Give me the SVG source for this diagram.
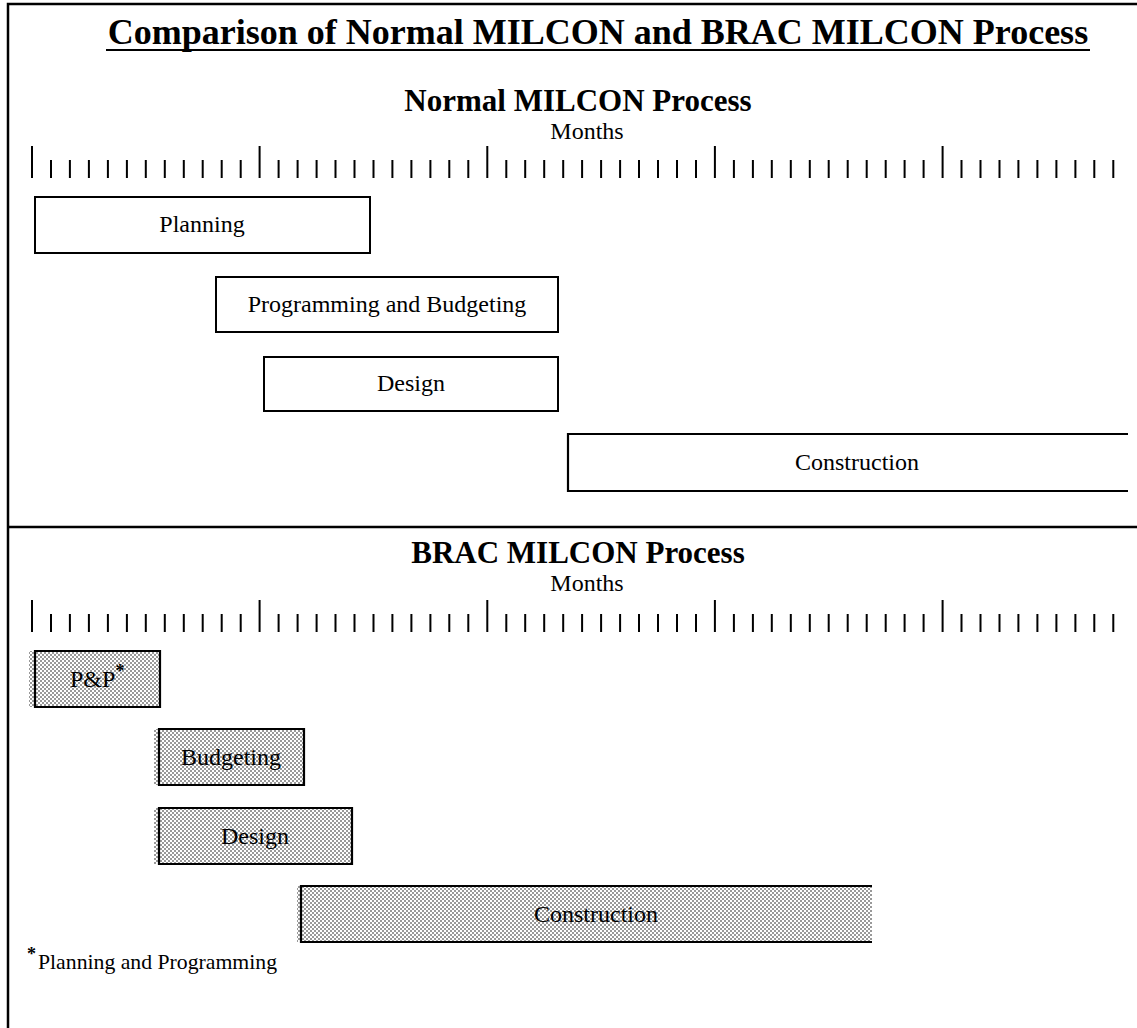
<svg xmlns="http://www.w3.org/2000/svg" xmlns:xlink="http://www.w3.org/1999/xlink" width="1137" height="1028" viewBox="0 0 1137 1028">
<style>
  .frame { fill: none; stroke: #000; stroke-width: 2.5; }
  .tick { fill: none; stroke: #000; stroke-width: 2; }
  .box { fill: #fff; stroke: #000; stroke-width: 2; }
  .shade { fill: url(#dots); }
  .edge { fill: none; stroke: #000; stroke-width: 2.2; }
  .title { font-family: "Liberation Serif", "Times New Roman", serif; font-weight: bold; font-size: 36px; text-anchor: middle; fill: #000; }
  .head { font-family: "Liberation Serif", "Times New Roman", serif; font-weight: bold; font-size: 31px; text-anchor: middle; fill: #000; }
  .months { font-family: "Liberation Serif", "Times New Roman", serif; font-size: 24px; text-anchor: middle; fill: #000; }
  .lbl { font-family: "Liberation Serif", "Times New Roman", serif; font-size: 24px; text-anchor: middle; fill: #000; }
  .note { font-family: "Liberation Serif", "Times New Roman", serif; font-size: 21.5px; fill: #000; }
</style>
<defs>
  <pattern id="dots" width="4" height="4" patternUnits="userSpaceOnUse">
    <rect width="4" height="4" fill="#fff"/>
    <rect width="2" height="2" fill="#999"/>
    <rect x="2" y="2" width="2" height="2" fill="#999"/>
  </pattern>
  <g id="ticks">
    <path class="tick" d="M32 146V178 M259.6 146V178 M487.3 146V178 M714.9 146V178 M942.6 146V178"/>
    <path class="tick" d="M51 160V178 M69.9 160V178 M88.9 160V178 M107.9 160V178 M126.9 160V178 M145.8 160V178 M164.8 160V178 M183.8 160V178 M202.7 160V178 M221.7 160V178 M240.7 160V178
      M278.6 160V178 M297.6 160V178 M316.6 160V178 M335.5 160V178 M354.5 160V178 M373.5 160V178 M392.4 160V178 M411.4 160V178 M430.4 160V178 M449.3 160V178 M468.3 160V178
      M506.3 160V178 M525.2 160V178 M544.2 160V178 M563.2 160V178 M582.1 160V178 M601.1 160V178 M620.1 160V178 M639 160V178 M658 160V178 M677 160V178 M696 160V178
      M733.9 160V178 M752.9 160V178 M771.8 160V178 M790.8 160V178 M809.8 160V178 M828.7 160V178 M847.7 160V178 M866.7 160V178 M885.7 160V178 M904.6 160V178 M923.6 160V178
      M961.5 160V178 M980.5 160V178 M999.5 160V178 M1018.4 160V178 M1037.4 160V178 M1056.4 160V178 M1075.4 160V178 M1094.3 160V178 M1113.3 160V178"/>
  </g>
</defs>

<rect width="1137" height="1028" fill="#fff"/>

<g id="frame">
  <path class="frame" d="M8 1028V4H1137"/>
  <line class="frame" x1="8" y1="527" x2="1137" y2="527"/>
</g>

<g id="title">
  <text class="title" x="598" y="44">Comparison of Normal MILCON and BRAC MILCON Process</text>
  <line x1="106" y1="50" x2="1090" y2="50" stroke="#000" stroke-width="2.2"/>
</g>

<g id="normal-header">
  <text class="head" x="578" y="111">Normal MILCON Process</text>
  <text class="months" x="587" y="139">Months</text>
  <use xlink:href="#ticks" href="#ticks"/>
</g>

<g id="n-planning">
  <rect class="box" x="35" y="197" width="335" height="56"/>
  <text class="lbl" x="202" y="232">Planning</text>
</g>
<g id="n-programming">
  <rect class="box" x="216" y="277" width="342" height="55"/>
  <text class="lbl" x="387" y="312">Programming and Budgeting</text>
</g>
<g id="n-design">
  <rect class="box" x="264" y="357" width="294" height="54"/>
  <text class="lbl" x="411" y="391">Design</text>
</g>
<g id="n-construction">
  <rect x="568" y="434" width="560" height="57" fill="#fff"/>
  <path class="edge" d="M1128 434H568V491H1128"/>
  <text class="lbl" x="857" y="470">Construction</text>
</g>

<g id="brac-header">
  <text class="head" x="578" y="563">BRAC MILCON Process</text>
  <text class="months" x="587" y="591">Months</text>
  <use xlink:href="#ticks" href="#ticks" transform="translate(0,454)"/>
</g>

<g id="b-pp">
  <rect class="shade" x="29" y="651" width="131" height="56"/>
  <path class="edge" d="M35 651H160V707H35Z"/>
  <text class="lbl" x="70" y="687" style="text-anchor:start">P&amp;P<tspan dy="-10" font-size="18" font-weight="bold">*</tspan></text>
</g>
<g id="b-budgeting">
  <rect class="shade" x="154" y="729" width="150" height="56"/>
  <path class="edge" d="M159 729H304V785H159Z"/>
  <text class="lbl" x="231" y="765">Budgeting</text>
</g>
<g id="b-design">
  <rect class="shade" x="154" y="808" width="198" height="56"/>
  <path class="edge" d="M159 808H352V864H159Z"/>
  <text class="lbl" x="255" y="844">Design</text>
</g>
<g id="b-construction">
  <rect class="shade" x="297" y="886" width="575" height="56"/>
  <path class="edge" d="M872 886H301V942H872"/>
  <text class="lbl" x="596" y="922">Construction</text>
</g>

<g id="footnote">
  <text class="note" x="27" y="969"><tspan dy="-9" font-size="18" font-weight="bold">*</tspan><tspan x="38" y="969" textLength="239" lengthAdjust="spacingAndGlyphs">Planning and Programming</tspan></text>
</g>
</svg>
